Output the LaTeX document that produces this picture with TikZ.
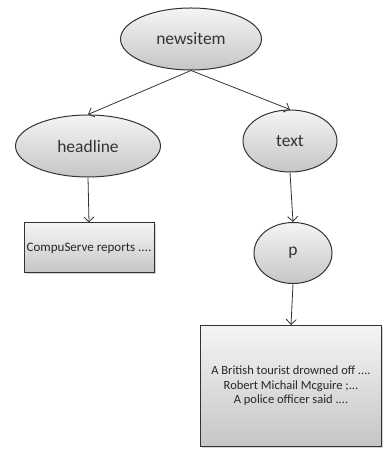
\documentclass[tikz,border=0pt]{standalone}
\usepackage{fontspec}
\setmainfont{Carlito}
\usetikzlibrary{shapes.geometric,arrows.meta,shadows}
\definecolor{edgec}{HTML}{333333}
\tikzset{
  elnode/.style={ellipse, draw=edgec, line width=1pt, top color=gray!8, bottom color=gray!45,
    inner sep=0pt, font=\fontsize{17.5}{20}\selectfont, text=black!80},
  boxnode/.style={rectangle, draw=edgec, line width=1pt, top color=gray!8, bottom color=gray!45,
    drop shadow={opacity=0.35, shadow xshift=1.5pt, shadow yshift=-1.5pt},
    inner sep=0pt, align=center, text=black!85},
  conn/.style={draw=edgec, line width=0.8pt, -{Straight Barb[length=5pt,width=10pt]}}
}
\begin{document}
\begin{tikzpicture}[x=1pt,y=1pt]
\useasboundingbox (0,0) rectangle (383,449);
\node[elnode, minimum width=141pt, minimum height=62pt] (news) at (191,410) {newsitem};
\node[elnode, minimum width=145pt, minimum height=62pt] (head) at (88,303) {headline};
\node[elnode, minimum width=94pt, minimum height=62pt] (text) at (290,308) {text};
\node[elnode, minimum width=78pt, minimum height=61pt] (p) at (293,196) {p};
\node[boxnode, minimum width=130pt, minimum height=50pt, font=\fontsize{13}{15}\selectfont] (cs) at (89,201) {CompuServe reports ....};
\node[boxnode, minimum width=181pt, minimum height=121pt, font=\fontsize{12.5}{14.5}\selectfont] (body) at (291,63) {A British tourist drowned off ....\\Robert Michail Mcguire ;...\\A police officer said ....};
\draw[conn] (news.south) -- (head.north);
\draw[conn] (news.south) -- (text.north);
\draw[conn] (head.south) -- (cs.north);
\draw[conn] (text.south) -- (p.north);
\draw[conn] (p.south) -- (body.north);
\end{tikzpicture}
\end{document}
